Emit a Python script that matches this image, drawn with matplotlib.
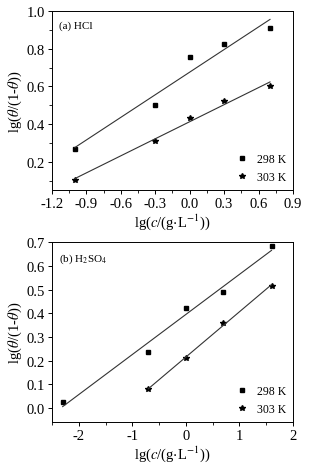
import numpy as np
import matplotlib
matplotlib.use("Agg")
import matplotlib.pyplot as plt
from matplotlib.ticker import MultipleLocator

plt.rcParams['font.family'] = ['Liberation Serif', 'DejaVu Serif']
plt.rcParams['mathtext.fontset'] = 'stix'
plt.rcParams['axes.unicode_minus'] = False

# Panel (a) HCl
hcl_x = [-1.0, -0.3, 0.0, 0.3, 0.7]
hcl_298 = [0.27, 0.50, 0.755, 0.825, 0.91]
hcl_303 = [0.105, 0.31, 0.435, 0.525, 0.60]

# Panel (b) H2SO4
h2so4_x298 = [-2.3, -0.7, 0.0, 0.7, 1.6]
h2so4_298 = [0.025, 0.235, 0.42, 0.49, 0.685]
h2so4_x303 = [-0.7, 0.0, 0.7, 1.6]
h2so4_303 = [0.08, 0.21, 0.36, 0.515]

labels = ['298 K', '303 K']

fig = plt.figure(figsize=(3.15, 4.64), dpi=100)
ax1 = fig.add_axes([0.165, 0.588, 0.765, 0.386])
ax2 = fig.add_axes([0.165, 0.088, 0.765, 0.388])

def panel(ax, xs1, ys1, xs2, ys2, title):
    for xs, ys, m, ms, lab in [(xs1, ys1, 's', 3.5, labels[0]), (xs2, ys2, '*', 4.2, labels[1])]:
        ax.plot(xs, ys, linestyle='none', marker=m, color='black', markersize=ms, label=lab)
        p = np.polyfit(xs, ys, 1)
        xx = np.array([min(xs), max(xs)])
        ax.plot(xx, np.polyval(p, xx), color='#333333', lw=0.8)
    ax.tick_params(direction='out', length=3, width=0.7, labelsize=10.5, top=False, right=False, pad=2)
    ax.tick_params(which='minor', direction='out', length=2, width=0.6)
    for s in ax.spines.values():
        s.set_linewidth(0.7)
    ax.text(0.03, 0.95, title, transform=ax.transAxes, fontsize=8, va='top', ha='left')
    ax.legend(loc='lower right', frameon=False, fontsize=8.5, handletextpad=0.6,
              borderaxespad=0.2, labelspacing=0.5, handlelength=1.2)
    ax.set_ylabel(r'lg($\mathit{\theta}$/(1-$\mathit{\theta}$))', fontsize=10.5, labelpad=2)
    ax.set_xlabel(r'lg($c$/(g$\cdot$L$^{-1}$))', fontsize=10.5, labelpad=1)

panel(ax1, hcl_x, hcl_298, hcl_x, hcl_303, '(a) HCl')
ax1.set_xlim(-1.2, 0.9)
ax1.set_ylim(0.05, 1.0)
ax1.xaxis.set_major_locator(MultipleLocator(0.3))
ax1.xaxis.set_minor_locator(MultipleLocator(0.15))
ax1.yaxis.set_major_locator(MultipleLocator(0.2))
ax1.yaxis.set_minor_locator(MultipleLocator(0.1))
ax1.set_xticks(ax1.get_xticks())
ax1.set_xticklabels([f'{v:.1f}' for v in ax1.get_xticks()])
ax1.set_xlim(-1.2, 0.9)

panel(ax2, h2so4_x298, h2so4_298, h2so4_x303, h2so4_303, r'(b) H$_2$SO$_4$')
ax2.set_xlim(-2.5, 2.0)
ax2.set_ylim(-0.06, 0.7)
ax2.xaxis.set_major_locator(MultipleLocator(1))
ax2.xaxis.set_minor_locator(MultipleLocator(0.5))
ax2.yaxis.set_major_locator(MultipleLocator(0.1))

fig.savefig('out.png', dpi=100)
